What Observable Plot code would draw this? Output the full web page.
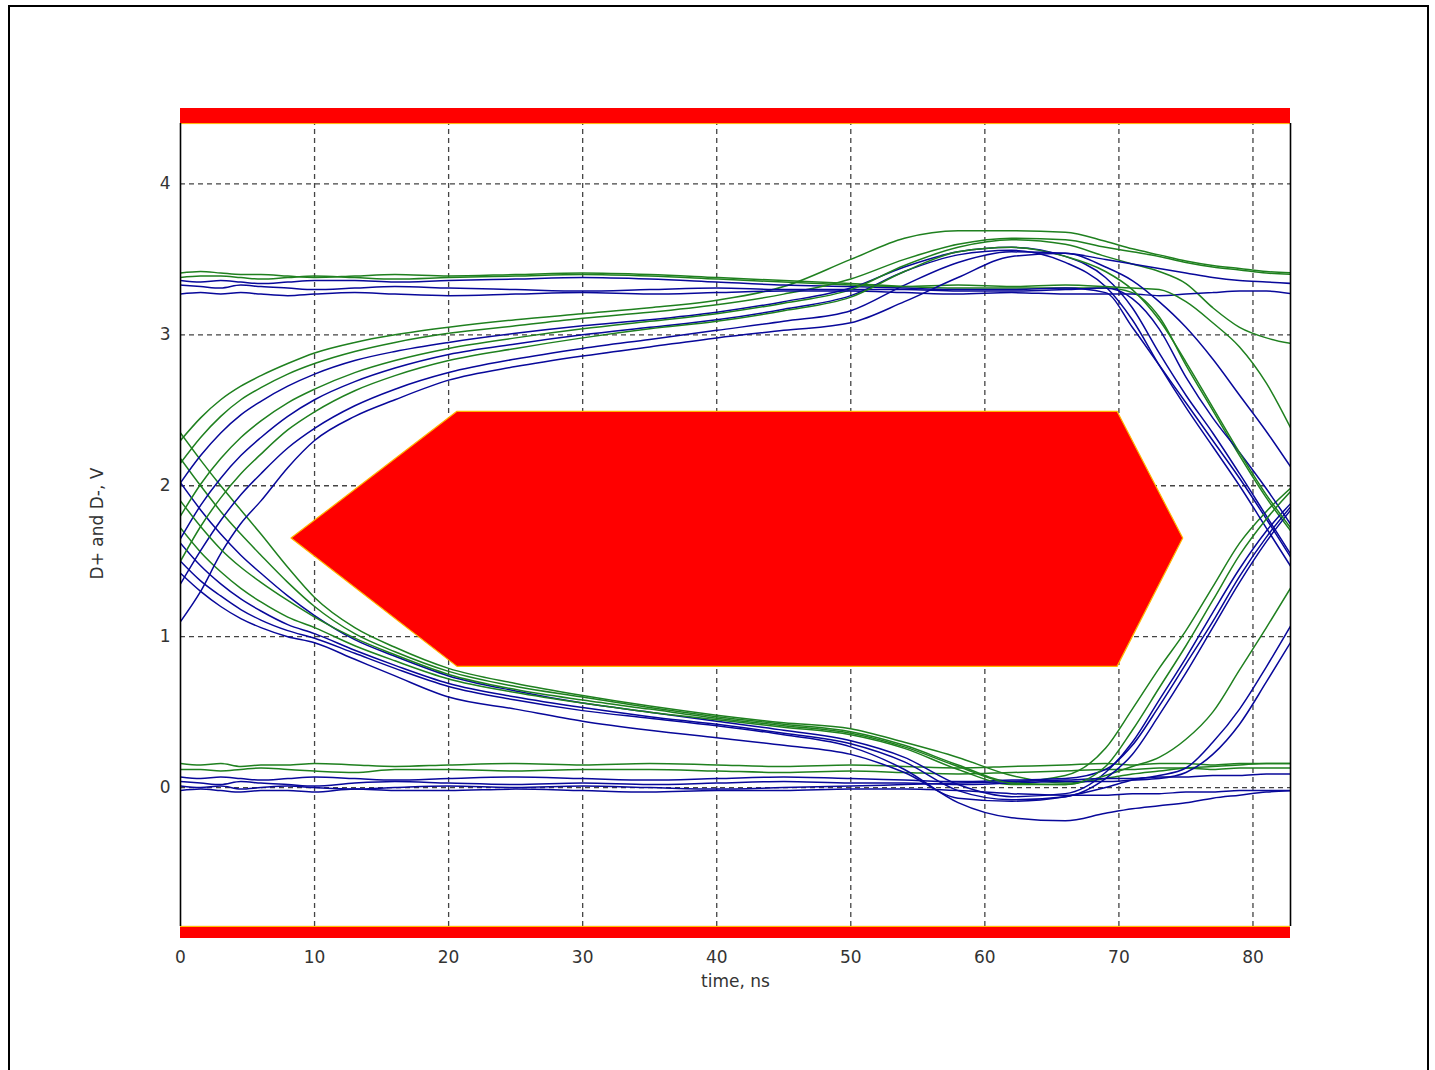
<!DOCTYPE html>
<html><head><meta charset="utf-8">
<script src="https://cdn.jsdelivr.net/npm/d3@7"></script>
<script src="https://cdn.jsdelivr.net/npm/@observablehq/plot@0.6"></script>
<style>
html,body{margin:0;padding:0;background:#fff;}
#frame{position:absolute;left:8px;top:5px;width:1421px;height:1080px;border:2px solid #000;box-sizing:border-box;}
#chart{position:absolute;left:0;top:0;}
</style></head><body>
<div id="frame"></div>
<div id="chart"></div>
<script>
// sample times (ns)
const time = [0, 1.5, 3, 4.5, 6, 8, 10, 13, 16, 20, 25, 30, 35, 40, 45, 50, 54, 58, 62, 66, 69, 71, 73, 75, 77, 79, 81, 83];

// rising at the left edge
const r1 = [2.30, 2.45, 2.57, 2.66, 2.73, 2.81, 2.88, 2.95, 3.00, 3.05, 3.10, 3.14, 3.18, 3.23, 3.32, 3.50, 3.64, 3.69, 3.69, 3.68, 3.62, 3.57, 3.53, 3.49, 3.46, 3.44, 3.42, 3.41];
const r2 = [2.15, 2.32, 2.46, 2.57, 2.65, 2.74, 2.81, 2.89, 2.95, 3.01, 3.06, 3.11, 3.15, 3.20, 3.27, 3.37, 3.50, 3.60, 3.64, 3.63, 3.58, 3.55, 3.52, 3.48, 3.45, 3.43, 3.41, 3.40];
const r3 = [2.02, 2.20, 2.35, 2.47, 2.56, 2.66, 2.74, 2.83, 2.89, 2.95, 3.01, 3.06, 3.10, 3.15, 3.22, 3.31, 3.45, 3.55, 3.58, 3.52, 3.38, 3.18, 2.88, 2.60, 2.35, 2.08, 1.80, 1.52];
const r4 = [1.80, 2.01, 2.18, 2.32, 2.43, 2.55, 2.64, 2.75, 2.83, 2.91, 2.98, 3.04, 3.09, 3.14, 3.21, 3.30, 3.46, 3.58, 3.63, 3.60, 3.52, 3.47, 3.42, 3.34, 3.18, 3.05, 2.98, 2.94];
const r5 = [1.65, 1.87, 2.05, 2.20, 2.32, 2.46, 2.57, 2.69, 2.78, 2.87, 2.94, 3.00, 3.05, 3.10, 3.17, 3.26, 3.42, 3.53, 3.56, 3.48, 3.32, 3.10, 2.80, 2.52, 2.26, 2.00, 1.72, 1.44];
const r6 = [1.50, 1.73, 1.92, 2.08, 2.21, 2.37, 2.49, 2.63, 2.73, 2.83, 2.91, 2.98, 3.04, 3.09, 3.16, 3.25, 3.42, 3.55, 3.58, 3.52, 3.42, 3.30, 3.10, 2.82, 2.52, 2.22, 1.94, 1.70];
const r7 = [1.35, 1.57, 1.77, 1.94, 2.08, 2.25, 2.38, 2.53, 2.64, 2.75, 2.84, 2.91, 2.97, 3.03, 3.09, 3.16, 3.33, 3.48, 3.55, 3.54, 3.50, 3.47, 3.44, 3.41, 3.38, 3.36, 3.35, 3.34];
const r8 = [1.10, 1.30, 1.55, 1.75, 1.90, 2.12, 2.30, 2.46, 2.57, 2.70, 2.79, 2.86, 2.92, 2.98, 3.03, 3.08, 3.22, 3.38, 3.52, 3.54, 3.45, 3.36, 3.22, 3.05, 2.84, 2.60, 2.36, 2.10];

// falling at the left edge
const f1 = [2.35, 2.17, 2.00, 1.84, 1.68, 1.46, 1.26, 1.06, 0.93, 0.79, 0.69, 0.61, 0.54, 0.48, 0.43, 0.39, 0.30, 0.20, 0.08, 0.03, 0.06, 0.09, 0.11, 0.13, 0.14, 0.15, 0.16, 0.16];
const f2 = [2.18, 2.00, 1.83, 1.68, 1.54, 1.36, 1.20, 1.02, 0.90, 0.77, 0.67, 0.60, 0.53, 0.47, 0.42, 0.37, 0.28, 0.15, 0.04, 0.08, 0.26, 0.52, 0.79, 1.04, 1.33, 1.62, 1.83, 2.00];
const f3 = [2.02, 1.84, 1.68, 1.54, 1.42, 1.27, 1.14, 0.98, 0.87, 0.74, 0.64, 0.56, 0.50, 0.44, 0.38, 0.31, 0.20, 0.02, -0.06, -0.04, 0.10, 0.30, 0.58, 0.86, 1.16, 1.45, 1.70, 1.90];
const f4 = [1.72, 1.56, 1.43, 1.32, 1.23, 1.13, 1.06, 0.94, 0.84, 0.72, 0.63, 0.56, 0.50, 0.45, 0.40, 0.35, 0.26, 0.12, 0.02, 0.02, 0.08, 0.14, 0.20, 0.32, 0.50, 0.78, 1.06, 1.35];
const f5 = [1.62, 1.47, 1.35, 1.25, 1.17, 1.08, 1.02, 0.91, 0.81, 0.69, 0.60, 0.53, 0.47, 0.42, 0.36, 0.29, 0.17, -0.02, -0.08, -0.06, 0.06, 0.22, 0.48, 0.76, 1.06, 1.36, 1.63, 1.86];
const f6 = [1.50, 1.37, 1.27, 1.18, 1.11, 1.04, 0.99, 0.89, 0.79, 0.67, 0.58, 0.51, 0.46, 0.41, 0.35, 0.27, 0.12, -0.10, -0.20, -0.22, -0.17, -0.14, -0.12, -0.10, -0.07, -0.05, -0.03, -0.02];
const f7 = [1.42, 1.30, 1.20, 1.12, 1.06, 1.00, 0.96, 0.85, 0.74, 0.60, 0.52, 0.44, 0.38, 0.33, 0.28, 0.22, 0.10, -0.07, -0.09, -0.06, 0.00, 0.05, 0.08, 0.13, 0.30, 0.52, 0.80, 1.10];
const f8 = [1.90, 1.73, 1.58, 1.46, 1.36, 1.24, 1.13, 0.99, 0.88, 0.75, 0.65, 0.58, 0.52, 0.46, 0.41, 0.36, 0.27, 0.14, 0.03, 0.02, 0.14, 0.38, 0.66, 0.94, 1.24, 1.54, 1.78, 1.98];

// high at the left edge
const h1 = [3.41, 3.42, 3.41, 3.40, 3.40, 3.39, 3.38, 3.39, 3.40, 3.39, 3.40, 3.41, 3.40, 3.38, 3.36, 3.34, 3.32, 3.31, 3.31, 3.31, 3.31, 3.28, 3.12, 2.80, 2.50, 2.20, 1.92, 1.68];
const h2 = [3.36, 3.35, 3.36, 3.35, 3.34, 3.35, 3.36, 3.36, 3.35, 3.36, 3.37, 3.38, 3.37, 3.35, 3.33, 3.32, 3.31, 3.30, 3.30, 3.31, 3.28, 3.05, 2.80, 2.55, 2.30, 2.05, 1.78, 1.50];
const h3 = [3.33, 3.32, 3.31, 3.33, 3.32, 3.31, 3.30, 3.31, 3.32, 3.31, 3.30, 3.29, 3.30, 3.31, 3.30, 3.30, 3.30, 3.29, 3.29, 3.30, 3.31, 3.24, 3.04, 2.72, 2.45, 2.22, 1.98, 1.72];
const h4 = [3.27, 3.28, 3.27, 3.28, 3.27, 3.26, 3.27, 3.28, 3.27, 3.26, 3.27, 3.28, 3.27, 3.28, 3.29, 3.29, 3.28, 3.27, 3.28, 3.27, 3.27, 3.27, 3.26, 3.27, 3.28, 3.29, 3.29, 3.27];
const h5 = [3.38, 3.39, 3.39, 3.38, 3.37, 3.38, 3.39, 3.38, 3.37, 3.38, 3.39, 3.40, 3.39, 3.37, 3.35, 3.33, 3.32, 3.33, 3.32, 3.33, 3.32, 3.31, 3.30, 3.22, 3.08, 2.92, 2.68, 2.35];

// low at the left edge
const l1 = [0.16, 0.15, 0.16, 0.14, 0.15, 0.15, 0.16, 0.15, 0.14, 0.15, 0.16, 0.15, 0.16, 0.15, 0.14, 0.15, 0.14, 0.13, 0.14, 0.15, 0.16, 0.15, 0.16, 0.16, 0.15, 0.16, 0.16, 0.16];
const l2 = [0.12, 0.12, 0.11, 0.12, 0.13, 0.12, 0.11, 0.10, 0.12, 0.12, 0.11, 0.12, 0.12, 0.11, 0.10, 0.11, 0.10, 0.09, 0.10, 0.11, 0.12, 0.12, 0.13, 0.13, 0.12, 0.13, 0.13, 0.13];
const l3 = [0.07, 0.06, 0.07, 0.06, 0.05, 0.06, 0.07, 0.06, 0.05, 0.06, 0.07, 0.06, 0.05, 0.06, 0.07, 0.06, 0.05, 0.04, 0.05, 0.06, 0.12, 0.28, 0.54, 0.82, 1.10, 1.40, 1.66, 1.88];
const l4 = [0.04, 0.03, 0.02, 0.04, 0.03, 0.02, 0.01, 0.03, 0.04, 0.03, 0.02, 0.03, 0.02, 0.03, 0.04, 0.03, 0.03, 0.02, 0.03, 0.04, 0.04, 0.05, 0.06, 0.10, 0.22, 0.42, 0.70, 0.99];
const l5 = [0.01, 0.00, 0.01, -0.01, 0.00, 0.01, 0.00, -0.01, 0.00, 0.01, 0.00, 0.01, 0.00, -0.01, 0.00, 0.01, 0.02, 0.03, 0.04, 0.05, 0.06, 0.06, 0.07, 0.07, 0.08, 0.08, 0.09, 0.09];
const l6 = [-0.02, -0.01, -0.02, -0.03, -0.02, -0.02, -0.03, -0.01, -0.02, -0.02, -0.01, -0.02, -0.03, -0.02, -0.02, -0.01, -0.01, -0.02, -0.04, -0.05, -0.05, -0.04, -0.04, -0.03, -0.03, -0.02, -0.02, -0.02];

const traceNames  = ["h1","l1","r1","f1","h2","l2","r2","f2","r3","f3","h3","l3","r4","f4","r5","f5","h4","l4","r6","f6","r7","f7","h5","l5","r8","f8","l6"];
const traceValues = [h1, l1, r1, f1, h2, l2, r2, f2, r3, f3, h3, l3, r4, f4, r5, f5, h4, l4, r6, f6, r7, f7, h5, l5, r8, f8, l6];
const traceGroup  = ["G","G","G","G","B","G","G","G","B","B","B","B","G","G","B","B","B","B","G","B","B","B","G","B","B","G","B"];

// eye mask (hexagon) and limit bars
const maskT    = [8.28, 20.66, 69.9, 74.8];
const maskLow  = [1.65, 0.80, 0.80, 1.65];
const maskHigh = [1.65, 2.49, 2.49, 1.65];
const barLow  = [4.40, -1.00];
const barHigh = [4.50, -0.92];

const xTicks = [0, 10, 20, 30, 40, 50, 60, 70, 80];
const yTicks = [0, 1, 2, 3, 4];
const xLabel = "time, ns";
const yLabel = "D+ and D-, V";

const xMax = 82.8;
const rows = traceNames.flatMap((id, k) => traceValues[k].map((v, i) => ({id, grp: traceGroup[k], t: time[i], v})));
const mask = maskT.map((t, i) => ({t, lo: maskLow[i], hi: maskHigh[i]}));
const bars = barLow.map((lo, i) => ({lo, hi: barHigh[i]}));

const chart = Plot.plot({
  width: 1435, height: 1070,
  marginLeft: 180, marginRight: 145, marginTop: 108, marginBottom: 132,
  x: {domain: [0, xMax]},
  y: {domain: [-1, 4.5]},
  color: {type: "ordinal", domain: ["G", "B"], range: ["#1f801f", "#08089a"]},
  style: {fontFamily: "DejaVu Sans, sans-serif", fontSize: "17px", color: "#333", background: "transparent"},
  marks: [
    Plot.ruleX(xTicks.filter(d => d > 0), {x: d => d, y1: -0.92, y2: 4.4, stroke: "#444", strokeDasharray: "5,4", strokeWidth: 1.3}),
    Plot.ruleY(yTicks, {y: d => d, x1: 0, x2: xMax, stroke: "#444", strokeDasharray: "5,4", strokeWidth: 1.3}),
    Plot.areaY(mask, {x: "t", y1: "lo", y2: "hi", fill: "#ff0000", stroke: "#ffb400", strokeWidth: 1.2}),
    Plot.line(rows, {x: "t", y: "v", z: "id", stroke: "grp", strokeWidth: 1.5, curve: "monotone-x", clip: true}),
    Plot.rect(bars, {x1: 0, x2: xMax, y1: "lo", y2: "hi", fill: "#ff0000"}),
    Plot.ruleY(barLow.slice(0,1), {y: d => d, x1: 0, x2: xMax, stroke: "#ffb000", strokeWidth: 1}),
    Plot.ruleY(barHigh.slice(1), {y: d => d, x1: 0, x2: xMax, stroke: "#ffd000", strokeWidth: 1}),
    Plot.ruleX([0, xMax], {x: d => d, y1: -0.92, y2: 4.4, stroke: "#000", strokeWidth: 1.6}),
    Plot.axisY(yTicks, {tickSize: 0, tickPadding: 10, label: null, fontSize: 17, tickFormat: d3.format("d")}),
    Plot.axisX(xTicks, {tickSize: 0, tickPadding: 12, label: null, fontSize: 17, tickFormat: d3.format("d")}),
    Plot.text([xLabel], {frameAnchor: "bottom", dy: 43, lineAnchor: "middle", fontSize: 17, fill: "#333"}),
    Plot.text([yLabel], {frameAnchor: "left", dx: -83, rotate: -90, textAnchor: "middle", fontSize: 17, fill: "#333"})
  ]
});
document.getElementById("chart").appendChild(chart);
</script>
</body></html>
